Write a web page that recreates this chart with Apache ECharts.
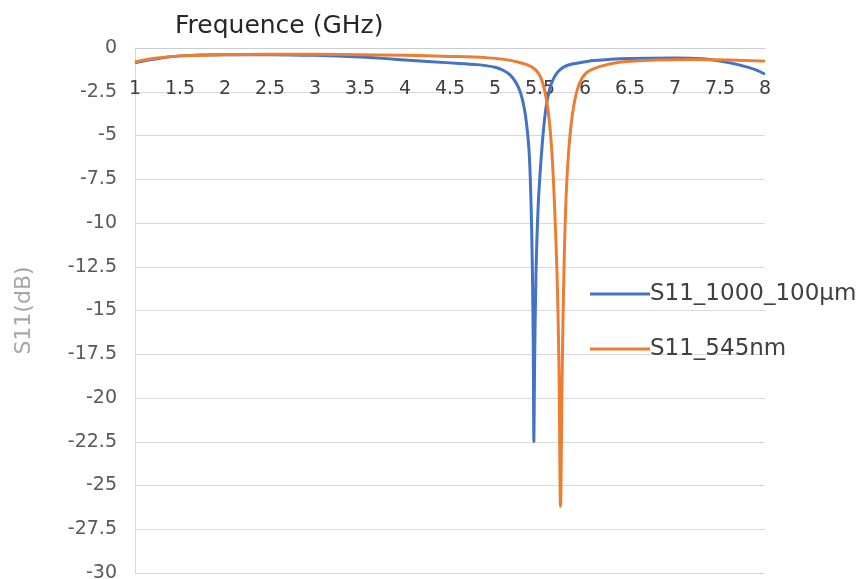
<!DOCTYPE html>
<html>
<head>
<meta charset="utf-8">
<script src="https://cdn.jsdelivr.net/npm/echarts@6/dist/echarts.min.js"></script>
<style>html,body{margin:0;padding:0;background:#fff}#c{width:860px;height:579px}</style>
</head>
<body>
<div id="c"></div>
<script>
const seriesNames = ['S11_1000_100µm', 'S11_545nm'];
const xAxisTitle = 'Frequence (GHz)';
const yAxisTitle = 'S11(dB)';
const blueData = [[1,-0.85],[1.2,-0.65],[1.5,-0.45],[2,-0.38],[2.5,-0.38],[3,-0.42],[3.5,-0.52],[4,-0.68],[4.5,-0.85],[4.8,-0.95],[5,-1.1],[5.1,-1.3],[5.17,-1.55],[5.23,-1.95],[5.28,-2.5],[5.32,-3.3],[5.35,-4.3],[5.38,-6.0],[5.40,-8.8],[5.415,-12.5],[5.425,-17],[5.432,-22.5],[5.44,-18],[5.455,-13],[5.48,-9],[5.51,-6.5],[5.54,-4.6],[5.57,-3.3],[5.61,-2.3],[5.66,-1.65],[5.72,-1.25],[5.8,-1.0],[5.9,-0.88],[6.1,-0.72],[6.5,-0.6],[7,-0.57],[7.3,-0.62],[7.5,-0.75],[7.7,-0.95],[7.9,-1.25],[8,-1.5]];
const orangeData = [[1,-0.8],[1.2,-0.6],[1.5,-0.45],[2,-0.38],[2.5,-0.36],[3,-0.36],[3.5,-0.38],[4,-0.42],[4.5,-0.48],[4.9,-0.55],[5.1,-0.65],[5.25,-0.8],[5.36,-0.97],[5.44,-1.2],[5.49,-1.5],[5.53,-2.0],[5.57,-2.9],[5.60,-4.0],[5.63,-5.8],[5.66,-8.8],[5.69,-13],[5.71,-18],[5.728,-26.2],[5.745,-19],[5.765,-13],[5.79,-8.5],[5.82,-5.8],[5.85,-4.2],[5.89,-2.9],[5.94,-2.0],[6.02,-1.4],[6.17,-1.05],[6.4,-0.8],[6.8,-0.68],[7.2,-0.65],[7.6,-0.68],[8,-0.75]];
const xMin = 1, xMax = 8, xStep = 0.5;
const yMin = -30, yMax = 0, yStep = 2.5;

const FONT = 'DejaVu Sans';
const chart = echarts.init(document.getElementById('c'), null, {renderer: 'canvas'});
chart.setOption({
  animation: false,
  backgroundColor: '#ffffff',
  textStyle: {fontFamily: FONT},
  grid: {left: 135, right: 95, top: 48, bottom: 6, containLabel: false, outerBoundsMode: 'none'},
  legend: {
    orient: 'vertical',
    left: 585,
    top: 276,
    icon: 'rect',
    itemWidth: 60,
    itemHeight: 3,
    itemGap: 29,
    textStyle: {fontFamily: FONT, fontSize: 23, color: '#404040', lineHeight: 26, padding: [0, 0, 0, -5]},
    data: seriesNames
  },
  xAxis: {
    type: 'value',
    position: 'top',
    min: xMin, max: xMax, interval: xStep,
    name: xAxisTitle,
    nameLocation: 'start',
    nameGap: -40,
    nameTextStyle: {fontFamily: FONT, fontSize: 25, color: '#262626', align: 'left', verticalAlign: 'bottom', padding: [0, 0, 9, 0]},
    axisLine: {show: true, onZero: false, lineStyle: {color: '#c8ccd4', width: 1}},
    axisTick: {show: false},
    axisLabel: {inside: true, fontFamily: FONT, fontSize: 19, color: '#404040', margin: 32},
    splitLine: {show: false}
  },
  yAxis: {
    type: 'value',
    min: yMin, max: yMax, interval: yStep,
    name: yAxisTitle,
    nameLocation: 'middle',
    nameGap: 100,
    nameTextStyle: {fontFamily: FONT, fontSize: 22, color: '#a6a6a6'},
    axisLine: {show: true, lineStyle: {color: '#d9d9d9', width: 1}},
    axisTick: {show: false},
    axisLabel: {fontFamily: FONT, fontSize: 19, color: '#595959', margin: 18},
    splitLine: {show: true, lineStyle: {color: '#d9d9d9', width: 1}}
  },
  series: [
    {name: seriesNames[0], type: 'line', data: blueData, showSymbol: false, symbol: 'none', smooth: 0.3,
     lineStyle: {color: '#4472C4', width: 3}, itemStyle: {color: '#4472C4'}},
    {name: seriesNames[1], type: 'line', data: orangeData, showSymbol: false, symbol: 'none', smooth: 0.3,
     lineStyle: {color: '#ED7D31', width: 3}, itemStyle: {color: '#ED7D31'}}
  ]
});
</script>
</body>
</html>
